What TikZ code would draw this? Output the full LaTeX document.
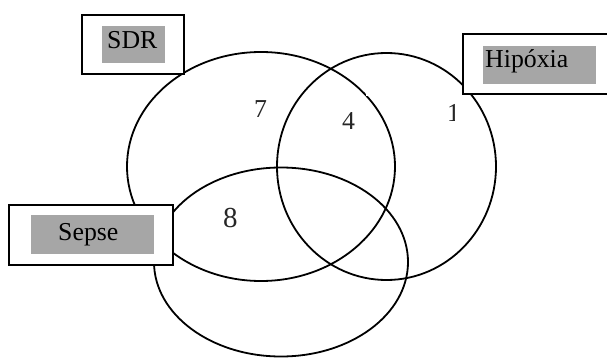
\documentclass[tikz,border=0pt]{standalone}
\usepackage{fontspec}
\setmainfont{Liberation Serif}
\definecolor{labgrey}{RGB}{166,166,166}
\begin{document}
\begin{tikzpicture}[x=1pt,y=-1pt,
  setline/.style={line width=1.8pt,black},
  outerbox/.style={draw=black,line width=2.2pt,fill=white},
  greybox/.style={fill=labgrey},
  lbl/.style={inner sep=0pt,anchor=base west,font=\fontsize{25.8}{30}\selectfont},
  num/.style={inner sep=0pt,anchor=base west,text=black!85,font=\fontsize{25.8}{30}\selectfont}]
\useasboundingbox[fill=white] (0,0) rectangle (607,358);
% sets
\draw[setline] (261,166.5) ellipse [x radius=134pt, y radius=114.5pt];
\draw[setline] (386.5,166.5) ellipse [x radius=109.5pt, y radius=113.5pt];
\draw[setline] (281,262) ellipse [x radius=127pt, y radius=94.5pt];
% small gap in the SDR ellipse
\fill[white] (366,89) rectangle (372,96);
% label boxes
\path[outerbox] (82,15) rectangle (184,74);
\fill[greybox] (102,26) rectangle (165,63);
\node[lbl] (sdr) at (107,49) {SDR};
\path[outerbox] (463,34) -- (612,34) -- (612,94) -- (463,94) -- cycle;
\fill[greybox] (483,46) rectangle (596,84);
\node[lbl] (hip) at (485,68) {Hipóxia};
\path[outerbox] (9,205) rectangle (173,265);
\fill[greybox] (31,215) rectangle (154,254);
\node[lbl] (sep) at (58,240) {Sepse};
% region counts
\node[num] (n7) at (254,118) {7};
\node[num] (n4) at (342,130) {4};
\node[num,font=\fontsize{29}{34}\selectfont] (n8) at (223,227) {8};
\begin{scope}
\clip (430,95) rectangle (454.6,135);
\node[num] (n1) at (447,122) {1};
\end{scope}
\end{tikzpicture}
\end{document}
